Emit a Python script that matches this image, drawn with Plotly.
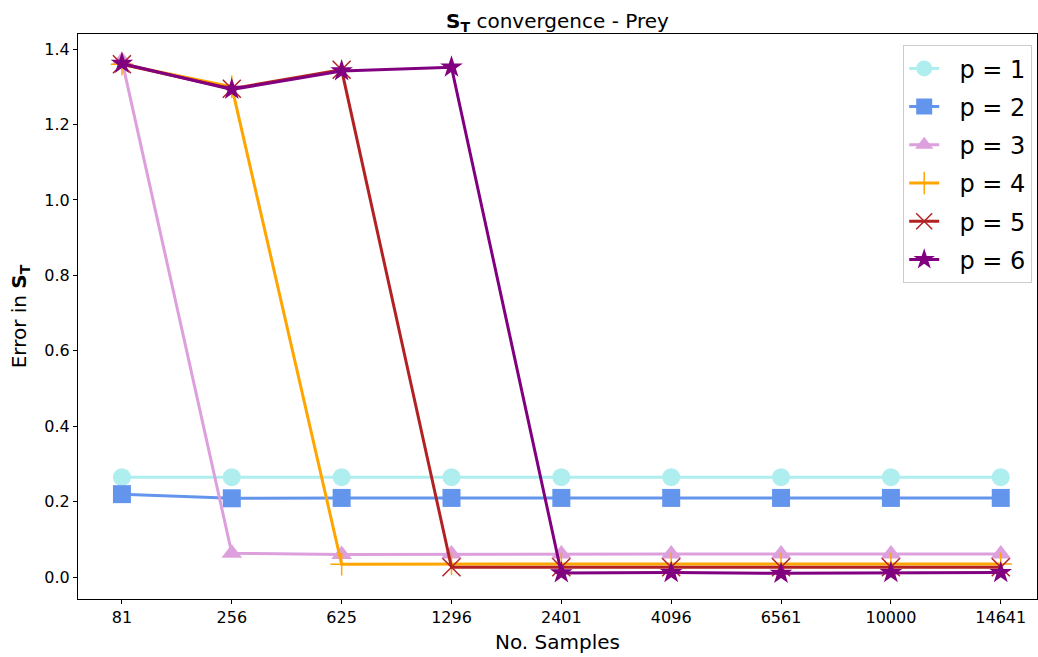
import plotly.graph_objects as go

samples = ["81", "256", "625", "1296", "2401", "4096", "6561", "10000", "14641"]
p1 = [0.265, 0.265, 0.265, 0.265, 0.265, 0.265, 0.265, 0.265, 0.265]
p2 = [0.220, 0.209, 0.210, 0.210, 0.210, 0.210, 0.210, 0.210, 0.210]
p3 = [1.370, 0.063, 0.060, 0.061, 0.061, 0.061, 0.061, 0.061, 0.061]
p4 = [1.360, 1.300, 0.034, 0.035, 0.035, 0.035, 0.035, 0.035, 0.035]
p5 = [1.360, 1.295, 1.345, 0.026, 0.026, 0.026, 0.026, 0.026, 0.026]
p6 = [1.362, 1.293, 1.342, 1.352, 0.011, 0.012, 0.010, 0.012, 0.012]

names = ["p = 1", "p = 2", "p = 3", "p = 4", "p = 5", "p = 6"]
series = [p1, p2, p3, p4, p5, p6]
colors = ["#AFEEEE", "#6495ED", "#DDA0DD", "#FFA500", "#B22222", "#800080"]
symbols = ["circle", "square", "triangle-up", "cross-thin", "x-thin", "star"]
sizes = [18, 18, 18, 16, 18, 17]

fig = go.Figure()
for i, (n, ys, c, s, sz) in enumerate(zip(names, series, colors, symbols, sizes)):
    thin = s.endswith("thin")
    fig.add_trace(go.Scatter(
        x=samples, y=ys, name="\u00a0\u00a0" + n, mode="lines+markers",
        legendgroup="g%d" % i,
        line=dict(color=c, width=3),
        marker=dict(symbol=s, size=sz, color=c,
                    line=dict(color=c, width=1.5 if thin else 0)),
    ))

fig.update_layout(
    width=1038, height=657,
    margin=dict(l=78, r=1, t=34, b=58),
    paper_bgcolor="white", plot_bgcolor="white",
    font=dict(family="DejaVu Sans", color="black", size=16),
    title=dict(text="<b>S</b><sub><b>T</b></sub> convergence - Prey",
               x=0.5, xref="paper", xanchor="center",
               y=1, yref="paper", yanchor="bottom", pad=dict(b=6),
               font=dict(size=20)),
    legend=dict(x=0.995, y=0.98, xanchor="right", yanchor="top",
                bgcolor="white", bordercolor="#cccccc", borderwidth=1,
                font=dict(size=24), tracegroupgap=4),
    showlegend=True,
)
fig.update_xaxes(
    type="category", range=[-0.4, 8.33],
    title=dict(text="No. Samples", font=dict(size=20), standoff=8),
    showline=True, linecolor="black", linewidth=1, mirror=True,
    ticks="outside", ticklen=4, tickcolor="black", showgrid=False,
    tickfont=dict(size=16), zeroline=False,
)
fig.update_yaxes(
    range=[-0.058, 1.44], tickvals=[0, 0.2, 0.4, 0.6, 0.8, 1.0, 1.2, 1.4],
    tickformat=".1f",
    title=dict(text="Error in <b>S</b><sub><b>T</b></sub>", font=dict(size=20), standoff=12),
    showline=True, linecolor="black", linewidth=1, mirror=True,
    ticks="outside", ticklen=4, tickcolor="black", showgrid=False,
    tickfont=dict(size=16), zeroline=False,
)

fig.write_html("out.html")
